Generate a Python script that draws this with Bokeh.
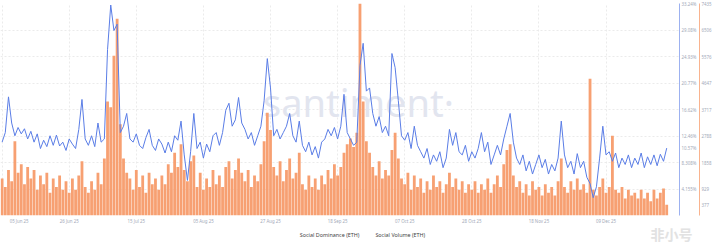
from bokeh.plotting import figure
from bokeh.layouts import column
from bokeh.models import (ColumnDataSource, Range1d, LinearAxis, FixedTicker,
                          Legend, LegendItem, Label)
from bokeh.embed import file_html
from bokeh.resources import INLINE

# ---------------- data ----------------
x_tick_days = [0, 21, 42, 63, 84, 105, 126, 147, 168, 189]
x_tick_labels = ["05 Jun 25", "26 Jun 25", "15 Jul 25", "05 Aug 25", "27 Aug 25",
                 "18 Sep 25", "07 Oct 25", "28 Oct 25", "18 Nov 25", "09 Dec 25"]

dominance = [
    11.5, 13.0, 18.6, 14.5, 12.5, 13.8, 12.8, 13.6, 12.0, 13.2,
    11.5, 12.8, 10.5, 11.8, 10.8, 12.5, 11.0, 12.6, 10.9, 11.5,
    10.2, 12.0, 11.2, 10.5, 13.5, 18.2, 12.0, 11.0, 12.5, 10.8,
    14.5, 11.5, 12.0, 26.0, 33.0, 29.0, 30.0, 13.0, 14.0, 16.0,
    12.0, 11.5, 12.8, 11.0, 10.5, 12.2, 13.5, 11.0, 10.2, 12.0,
    11.2, 9.8, 11.5, 10.0, 12.5, 11.8, 14.8, 9.5, 5.5, 10.0,
    16.0, 10.5, 11.5, 9.0, 11.2, 10.0, 12.5, 13.0, 11.0, 13.0,
    16.5, 17.6, 14.0, 15.0, 18.5, 14.5, 13.5, 12.0, 13.0, 11.0,
    12.5, 14.0, 18.0, 24.6, 20.0, 12.5, 13.5, 12.0, 13.0, 14.0,
    16.0, 12.5, 11.5, 14.8, 11.0, 10.0, 11.5, 9.5, 10.8, 9.0,
    11.5, 12.0, 13.5, 12.5, 13.8, 12.0, 14.0, 19.0, 13.0, 12.0,
    11.0, 11.5, 23.5, 27.0, 19.5, 20.0, 16.0, 14.0, 15.5, 13.0,
    14.0, 12.5, 25.4, 23.2, 18.0, 12.5, 11.8, 13.0, 10.5, 14.0,
    11.0, 10.0, 9.0, 10.5, 8.0, 9.5, 8.5, 10.0, 7.5, 9.0,
    13.5, 11.0, 13.0, 10.0, 9.5, 11.0, 8.5, 10.0, 9.0, 10.5,
    13.0, 10.0, 11.5, 8.0, 9.5, 11.0, 9.5, 12.0, 14.0, 16.0,
    11.5, 9.0, 8.0, 9.5, 7.0, 8.5, 6.5, 8.0, 9.5, 7.5,
    8.8, 6.5, 8.0, 7.0, 9.0, 14.8, 9.5, 7.5, 8.5, 6.5,
    9.7, 7.5, 8.5, 6.0, 5.0, 2.8, 4.5, 9.0, 14.0, 9.5,
    10.0, 8.5, 9.8, 7.5, 9.0, 8.0, 9.5, 7.5, 9.0, 8.0,
    9.8, 7.5, 9.2, 8.0, 9.5, 7.8, 9.6, 8.5, 10.57,
]

volume = [
    1300, 1000, 1600, 1200, 2600, 1500, 1800, 1100, 1700, 1300,
    1600, 900, 1400, 1100, 1500, 800, 1300, 1000, 1400, 900,
    1200, 800, 1300, 900, 1400, 1900, 1000, 800, 1200, 900,
    1500, 1100, 2000, 4000, 3800, 5600, 6900, 3200, 2000, 1500,
    1300, 900, 1600, 1000, 1400, 800, 1500, 1100, 1300, 900,
    1400, 1100, 1800, 1500, 2200, 1700, 2500, 1600, 1200, 1900,
    2100, 1000, 1500, 900, 1300, 1000, 1600, 1100, 1400, 1000,
    1700, 1900, 1300, 1600, 2000, 1500, 1200, 1600, 1000, 1400,
    1200, 1800, 2600, 3600, 3000, 1700, 1400, 1900, 1200, 1600,
    2000, 1300, 1500, 2200, 1100, 900, 1400, 1000, 1300, 900,
    1400, 1100, 1600, 1300, 1800, 1400, 1700, 2200, 2500, 2700,
    2400, 2900, 7435, 4000, 2600, 2200, 1700, 1400, 1900, 1300,
    1600, 1400, 2300, 2900, 2000, 1300, 1100, 1500, 900, 1400,
    1000, 1300, 800, 1200, 900, 1400, 1000, 1200, 800, 1100,
    1500, 1000, 1300, 900, 1200, 800, 1100, 900, 1200, 800,
    1100, 900, 1300, 800, 1100, 1400, 1000, 1800, 2300, 2500,
    1400, 1000, 1200, 800, 1100, 700, 1200, 900, 1000, 700,
    1100, 800, 1000, 700, 1200, 2000, 1000, 800, 1200, 900,
    1300, 900, 1100, 800, 4800, 900, 700, 1000, 1300, 800,
    1000, 2800, 900, 800, 1000, 600, 900, 700, 800, 600,
    900, 600, 800, 500, 900, 600, 800, 950, 377,
]

dom_ticks = [4.155, 8.31, 12.465, 16.62, 20.775, 24.93, 29.085, 33.24]
dom_labels = ["4.155%", "8.308%", "12.46%", "16.62%", "20.77%", "24.93%", "29.08%", "33.24%"]
vol_ticks = [929, 1858, 2788, 3717, 4647, 5576, 6506, 7435]
vol_labels = ["929", "1858", "2788", "3717", "4647", "5576", "6506", "7435"]

series_names = ["Social Dominance (ETH)", "Social Volume (ETH)"]

# ---------------- styling ----------------
BLUE = "#5a7de6"
ORANGE = "#f7a072"
TICK_COLOR = "#a3a9b8"
FONT = "Noto Sans"
TICK_FS = "4.4px"
NBSP = "\u00a0"

days = list(range(len(dominance)))
src = ColumnDataSource(dict(day=days, dom=dominance, vol=volume))

p = figure(frame_width=679, frame_height=212,
           output_backend="svg", toolbar_location=None,
           x_range=Range1d(-0.5, 212.0), y_range=Range1d(0, dom_ticks[-1]),
           y_axis_location="right",
           min_border_left=0, min_border_right=0, min_border_top=3,
           min_border_bottom=0)
p.outline_line_color = None
p.background_fill_color = "white"
p.border_fill_color = "white"
p.extra_y_ranges = {"vol": Range1d(0, vol_ticks[-1])}

# grids
p.xgrid.ticker = FixedTicker(ticks=x_tick_days)
p.ygrid.ticker = FixedTicker(ticks=dom_ticks)
for g in (p.xgrid, p.ygrid):
    g.grid_line_color = "#ebebeb"
    g.grid_line_dash = "2 2"
    g.grid_line_width = 1

# x axis (first label padded so it sits inside the page like the original)
xa = p.xaxis[0]
xa.ticker = FixedTicker(ticks=x_tick_days)
overrides = {d: lab for d, lab in zip(x_tick_days, x_tick_labels)}
overrides[x_tick_days[0]] = NBSP * 8 + x_tick_labels[0]
xa.major_label_overrides = overrides
xa.axis_line_color = None
xa.major_tick_line_color = None
xa.minor_tick_line_color = None
xa.major_tick_out = 0
xa.major_tick_in = 0
xa.major_label_text_font_size = TICK_FS
xa.major_label_text_color = TICK_COLOR
xa.major_label_text_font = FONT
xa.major_label_standoff = 2

# right axis: dominance (latest value shown as an extra tick label)
last_dom = dominance[-1]
ya = p.yaxis[0]
ya.ticker = FixedTicker(ticks=dom_ticks + [last_dom])
dom_over = {t: l for t, l in zip(dom_ticks, dom_labels)}
dom_over[last_dom] = f"{last_dom:.2f}%"
ya.major_label_overrides = dom_over
ya.axis_line_color = BLUE
ya.axis_line_alpha = 0.6
ya.major_tick_line_color = None
ya.minor_tick_line_color = None
ya.major_tick_out = 0
ya.major_tick_in = 0
ya.major_label_text_font_size = TICK_FS
ya.major_label_text_color = TICK_COLOR
ya.major_label_text_font = FONT
ya.major_label_standoff = 2

# right axis: volume (latest value shown as an extra tick label)
last_vol = volume[-1]
va = LinearAxis(y_range_name="vol", ticker=FixedTicker(ticks=vol_ticks + [last_vol]))
vol_over = {t: l for t, l in zip(vol_ticks, vol_labels)}
vol_over[last_vol] = str(last_vol)
va.major_label_overrides = vol_over
va.axis_line_color = ORANGE
va.axis_line_alpha = 0.8
va.major_tick_line_color = None
va.minor_tick_line_color = None
va.major_tick_out = 0
va.major_tick_in = 0
va.major_label_text_font_size = TICK_FS
va.major_label_text_color = TICK_COLOR
va.major_label_text_font = FONT
va.major_label_standoff = 2
p.add_layout(va, "right")

# watermark
wm = Label(x=111.5, y=17.8, text="santiment·", text_align="center",
           text_baseline="middle", text_font_size="38px", text_font=FONT,
           text_color="#e2e5ef", level="underlay")
p.add_layout(wm)

# glyphs
p.vbar(x="day", top="vol", width=0.88, y_range_name="vol", source=src,
       fill_color=ORANGE, line_color=None)
p.line(x="day", y="dom", source=src, line_color=BLUE, line_width=1.0)

# ---------------- legend strip (separate small figure under the chart) ----
lf = figure(frame_width=717, frame_height=18, output_backend="svg",
            toolbar_location=None, x_range=Range1d(0, 1), y_range=Range1d(0, 1),
            x_axis_location=None, y_axis_location=None,
            min_border_left=0, min_border_right=0, min_border_top=0,
            min_border_bottom=0)
lf.outline_line_color = None
lf.xgrid.visible = False
lf.ygrid.visible = False
r_b = lf.vbar(x=[], top=[], width=1, fill_color=BLUE, line_color=None)
r_o = lf.vbar(x=[], top=[], width=1, fill_color=ORANGE, line_color=None)
legend = Legend(items=[LegendItem(label=series_names[0], renderers=[r_b]),
                       LegendItem(label=series_names[1], renderers=[r_o])],
                orientation="horizontal", location="center",
                label_text_font_size="5.4px", label_text_font=FONT,
                label_text_color="#444444", glyph_width=6, glyph_height=6,
                label_standoff=2, spacing=8, padding=0, margin=0,
                border_line_color=None, background_fill_alpha=0,
                label_height=6)
lf.add_layout(legend)

mark = Label(x=650, y=1, x_units="screen", y_units="screen", text="非小号",
             text_font="Noto Sans CJK SC", text_font_size="14px",
             text_font_style="bold", text_color="#e2e2e2",
             text_baseline="bottom")
lf.add_layout(mark)

open("out.html", "w").write(file_html(column(p, lf, spacing=0), INLINE))
